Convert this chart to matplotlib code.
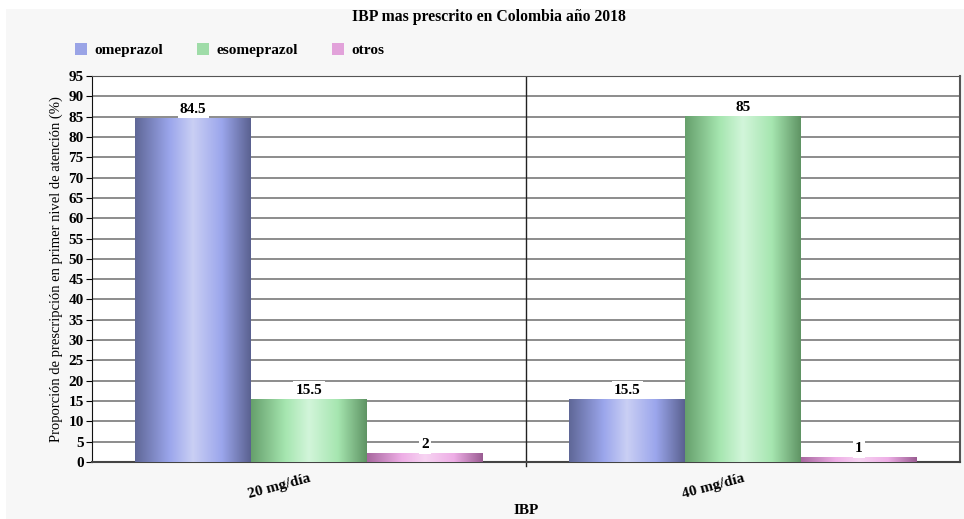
import numpy as np
import matplotlib.pyplot as plt
from matplotlib.colors import LinearSegmentedColormap
from matplotlib.patches import Rectangle, Patch

categories = ["20 mg/día", "40 mg/día"]
series = ["omeprazol", "esomeprazol", "otros"]
omeprazol = [84.5, 15.5]
esomeprazol = [15.5, 85]
otros = [2, 1]
values = [omeprazol, esomeprazol, otros]

# dark edge, bright band, light centre for each series
shades = [
    ["#5f6797", "#9ba6ec", "#cacff4", "#9ba6ec", "#5a6190"],
    ["#66a06c", "#a6e6b0", "#d2f5da", "#a6e6b0", "#5f9464"],
    ["#a8689f", "#eeaee6", "#f7d4f2", "#eeaee6", "#9a5c92"],
]
flat = ["#9aa4e6", "#9fdca8", "#e2a2da"]

plt.rcParams["font.family"] = ["Liberation Serif", "DejaVu Serif"]

fig = plt.figure(figsize=(9.64, 5.19), dpi=100, facecolor="white")
fig.add_artist(Rectangle((6 / 964, 0), 1, 1 - 9 / 519, transform=fig.transFigure,
                         facecolor="#f7f7f7", edgecolor="none", zorder=-5))
ax = fig.add_axes([92 / 964, 1 - 462 / 519, 868 / 964, 386 / 519])
ax.set_facecolor("white")

x = np.arange(len(categories))
w = 0.267
ramp = np.linspace(0, 1, 256).reshape(1, -1)
for i, (name, vals) in enumerate(zip(series, values)):
    bars = ax.bar(x + (i - 1) * w, vals, w, color=flat[i], zorder=3, label=name)
    cmap = LinearSegmentedColormap.from_list(name, list(zip([0, 0.3, 0.5, 0.75, 1], shades[i])))
    for b, v in zip(bars, vals):
        x0 = b.get_x()
        ax.imshow(ramp, cmap=cmap, aspect="auto", zorder=4,
                  extent=[x0, x0 + b.get_width(), 0, b.get_height()])
        ax.text(x0 + b.get_width() / 2, v + 0.6, f"{v:g}", ha="center", va="bottom",
                fontsize=11, fontweight="bold", zorder=6,
                bbox=dict(facecolor="white", edgecolor="none", pad=1.5))

ax.set_xlim(-0.5, 1.5)
ax.set_ylim(0, 95)
ax.set_yticks(np.arange(0, 96, 5))
ax.yaxis.grid(True, color="#8c8c8c", lw=1.4, zorder=1)
ax.set_axisbelow(True)
ax.axvline(0.5, color="#222222", lw=1, zorder=2)
ax.axvline(0.5, ymin=-0.01, ymax=0, color="#222222", lw=1, clip_on=False)

ax.set_xticks(x)
ax.set_xticklabels(categories, rotation=15, fontsize=11, fontweight="bold",
                   ha="right", va="top", rotation_mode="anchor")
ax.tick_params(axis="x", length=0, pad=7)
ax.tick_params(axis="y", length=4, labelsize=11, pad=2)
for t in ax.get_yticklabels():
    t.set_fontweight("bold")

for s in ["top", "right"]:
    ax.spines[s].set_color("#555555")
ax.spines["left"].set_color("#111111")
ax.spines["bottom"].set_color("#444444")
ax.spines["bottom"].set_linewidth(1.5)
ax.spines["right"].set_linewidth(1.5)

ax.set_ylabel("Proporción de prescripción en primer nivel de atención (%)", fontsize=10.5)
ax.set_xlabel("IBP", fontsize=11, fontweight="bold", labelpad=2)

fig.text(489 / 964, 1 - 17 / 519, "IBP mas prescrito en Colombia año 2018",
         ha="center", va="center", fontsize=11.3, fontweight="bold")
handles = [Patch(facecolor=c, edgecolor="none") for c in flat]
fig.legend(handles, series, loc="center left", bbox_to_anchor=(61 / 964, 1 - 50 / 519),
           ncol=3, frameon=False, prop=dict(weight="bold", size=11),
           handlelength=0.8, handleheight=0.8, columnspacing=2.2, handletextpad=0.5)

fig.savefig("out.png", dpi=100)
